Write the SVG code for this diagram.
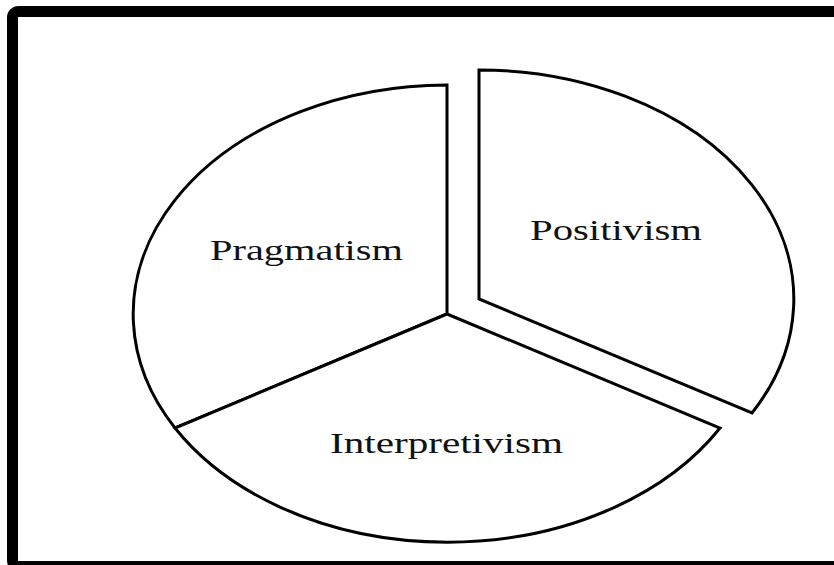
<svg xmlns="http://www.w3.org/2000/svg" width="834" height="565" viewBox="0 0 834 565">
<style>
.frame{fill:none;stroke:#000;stroke-width:11}
.slice{fill:#fff;stroke:#000;stroke-width:3;stroke-linejoin:miter}
.lbl{font-family:"Liberation Serif","Times New Roman",serif;font-size:30px;fill:#111}
</style>
<rect width="834" height="565" fill="#fff"/>
<rect class="frame" x="12.5" y="11.5" width="832" height="555" rx="6"/>
<g id="pragmatism">
<path class="slice" d="M447,314 L447,85 A315,229 0 0 0 175,428 Z"/>
<text class="lbl" x="210" y="260" textLength="193" lengthAdjust="spacingAndGlyphs">Pragmatism</text>
</g>
<g id="interpretivism">
<path class="slice" d="M447,314 L175,428 A315,229 0 0 0 720,428 Z"/>
<text class="lbl" x="330" y="453" textLength="233" lengthAdjust="spacingAndGlyphs">Interpretivism</text>
</g>
<g id="positivism">
<path class="slice" d="M479,299 L479,70 A315,229 0 0 1 752,413 Z"/>
<text class="lbl" x="530" y="240" textLength="172" lengthAdjust="spacingAndGlyphs">Positivism</text>
</g>
<g id="connectors"></g>
</svg>
